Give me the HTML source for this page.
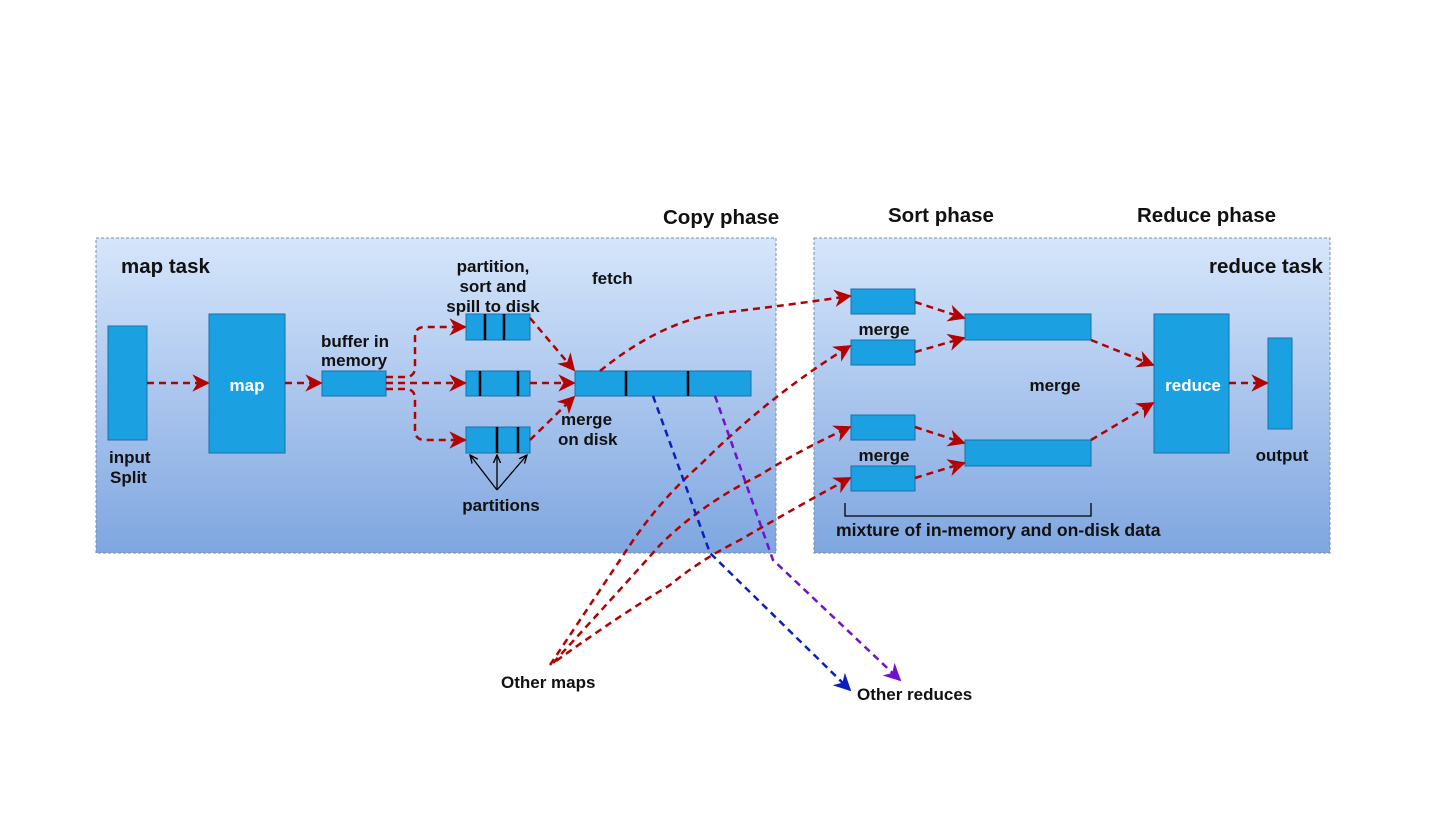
<!DOCTYPE html>
<html><head><meta charset="utf-8"><style>
html,body{margin:0;padding:0;background:#fff}
svg text{font-family:"Liberation Sans",Arial,sans-serif;font-weight:bold;font-size:17px;fill:#111}
svg text.t{font-size:20.5px}
</style></head><body>
<svg width="1440" height="810" viewBox="0 0 1440 810" xmlns="http://www.w3.org/2000/svg">
<defs>
<linearGradient id="g" x1="0" y1="0" x2="0" y2="1">
<stop offset="0" stop-color="#d6e6fb"/><stop offset="1" stop-color="#7fa6e0"/>
</linearGradient>
<marker id="ar" viewBox="0 0 10 10" refX="9" refY="5" markerWidth="7" markerHeight="7" orient="auto"><path d="M0,0 L10,5 L0,10 L3,5 z" fill="#b40000"/></marker>
<marker id="ab" viewBox="0 0 10 10" refX="9" refY="5" markerWidth="7" markerHeight="7" orient="auto"><path d="M0,0 L10,5 L0,10 L3,5 z" fill="#0a1fc0"/></marker>
<marker id="ap" viewBox="0 0 10 10" refX="9" refY="5" markerWidth="7" markerHeight="7" orient="auto"><path d="M0,0 L10,5 L0,10 L3,5 z" fill="#7010d0"/></marker>
<marker id="ak" viewBox="0 0 10 10" refX="9" refY="5" markerWidth="7" markerHeight="7" orient="auto"><path d="M0,1 L9,5 L0,9" fill="none" stroke="#000" stroke-width="1.5"/></marker>
</defs>
<rect x="96" y="238" width="680" height="315" fill="url(#g)" stroke="#7a8ca8" stroke-dasharray="3,2"/>
<rect x="814" y="238" width="516" height="315" fill="url(#g)" stroke="#7a8ca8" stroke-dasharray="3,2"/>
<g fill="#1ba1e2" stroke="#1a6fa8" stroke-width="1">
<rect x="108" y="326" width="39" height="114"/>
<rect x="209" y="314" width="76" height="139"/>
<rect x="322" y="371" width="64" height="25"/>
<rect x="466" y="314" width="64" height="26"/>
<rect x="466" y="371" width="64" height="25"/>
<rect x="466" y="427" width="64" height="26"/>
<rect x="575" y="371" width="176" height="25"/>
<rect x="851" y="289" width="64" height="25"/>
<rect x="851" y="340" width="64" height="25"/>
<rect x="851" y="415" width="64" height="25"/>
<rect x="851" y="466" width="64" height="25"/>
<rect x="965" y="314" width="126" height="26"/>
<rect x="965" y="440" width="126" height="26"/>
<rect x="1154" y="314" width="75" height="139"/>
<rect x="1268" y="338" width="24" height="91"/>
</g>
<g stroke="#000" stroke-width="2.5">
<line x1="485" y1="314" x2="485" y2="340"/><line x1="504" y1="314" x2="504" y2="340"/>
<line x1="480" y1="371" x2="480" y2="396"/><line x1="518" y1="371" x2="518" y2="396"/>
<line x1="497" y1="427" x2="497" y2="453"/><line x1="518" y1="427" x2="518" y2="453"/>
<line x1="626" y1="371" x2="626" y2="396"/><line x1="688" y1="371" x2="688" y2="396"/>
</g>
<g stroke="#000" stroke-width="1.3" fill="none">
<line x1="497" y1="490" x2="470" y2="455" marker-end="url(#ak)"/>
<line x1="497" y1="490" x2="497" y2="455" marker-end="url(#ak)"/>
<line x1="497" y1="490" x2="527" y2="455" marker-end="url(#ak)"/>
<path d="M845,503 V516 H1091 V503"/>
</g>
<g stroke="#b40000" stroke-width="2.5" stroke-dasharray="7,5" fill="none" marker-end="url(#ar)">
<line x1="147" y1="383" x2="208" y2="383"/>
<line x1="285" y1="383" x2="321" y2="383"/>
<line x1="386" y1="383" x2="465" y2="383"/>
<path d="M386,377 H405 Q415,377 415,367 V337 Q415,327 425,327 H465"/>
<path d="M386,389 H405 Q415,389 415,399 V430 Q415,440 425,440 H465"/>
<line x1="530" y1="318" x2="574" y2="370"/>
<line x1="530" y1="383" x2="574" y2="383"/>
<line x1="530" y1="440" x2="574" y2="397"/>
<path d="M600,371 Q660,322 720,313 Q790,305 850,296"/>
<path d="M550,665 Q600,590 630,545 Q660,500 700,465 Q770,395 850,346"/>
<path d="M553,663 Q620,590 660,545 Q700,505 760,475 Q800,450 850,427"/>
<path d="M556,661 Q620,615 670,585 Q700,560 740,540 Q800,505 850,478"/>
<line x1="915" y1="302" x2="964" y2="318"/>
<line x1="915" y1="352" x2="964" y2="338"/>
<line x1="915" y1="427" x2="964" y2="443"/>
<line x1="915" y1="478" x2="964" y2="463"/>
<line x1="1091" y1="340" x2="1153" y2="365"/>
<line x1="1091" y1="440" x2="1153" y2="403"/>
<line x1="1229" y1="383" x2="1267" y2="383"/>
</g>
<path d="M653,396 L710,553 L850,690" stroke="#0a1fc0" stroke-width="2.5" stroke-dasharray="7,5" fill="none" marker-end="url(#ab)"/>
<path d="M715,396 L773,560 L900,680" stroke="#7010d0" stroke-width="2.5" stroke-dasharray="7,5" fill="none" marker-end="url(#ap)"/>
<text class="t" x="663" y="224">Copy phase</text>
<text class="t" x="888" y="222">Sort phase</text>
<text class="t" x="1137" y="222">Reduce phase</text>
<text class="t" x="121" y="273">map task</text>
<text class="t" x="1209" y="273">reduce task</text>
<text x="592" y="284">fetch</text>
<text x="493" y="272" text-anchor="middle">partition,</text>
<text x="493" y="292" text-anchor="middle">sort and</text>
<text x="493" y="312" text-anchor="middle">spill to disk</text>
<text x="321" y="347">buffer in</text>
<text x="321" y="366">memory</text>
<text x="247" y="391" text-anchor="middle" style="fill:#fff">map</text>
<text x="1193" y="391" text-anchor="middle" style="fill:#fff">reduce</text>
<text x="109" y="463">input</text>
<text x="110" y="483">Split</text>
<text x="561" y="425">merge</text>
<text x="558" y="445">on disk</text>
<text x="501" y="511" text-anchor="middle">partitions</text>
<text x="884" y="335" text-anchor="middle">merge</text>
<text x="884" y="461" text-anchor="middle">merge</text>
<text x="1055" y="391" text-anchor="middle">merge</text>
<text x="1282" y="461" text-anchor="middle">output</text>
<text x="836" y="536" style="font-size:17.6px">mixture of in-memory and on-disk data</text>
<text x="501" y="688">Other maps</text>
<text x="857" y="700">Other reduces</text>
</svg>
</body></html>
